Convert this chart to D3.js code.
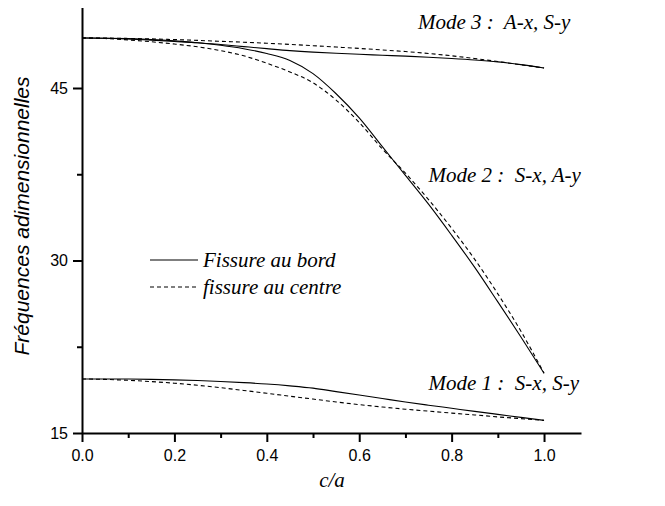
<!DOCTYPE html>
<html>
<head>
<meta charset="utf-8">
<style>
body { margin: 0; background: #fff; }
.axis path, .axis line { stroke: #000; stroke-width: 2; }
.axis text { font-family: "Liberation Sans", Arial, sans-serif; font-size: 16px; fill: #000; }
.curve { fill: none; stroke: #000; stroke-width: 1.1; }
.dash { stroke-dasharray: 4,3; }
.lbl { font-family: "Liberation Serif", "Times New Roman", serif; font-style: italic; font-size: 21px; fill: #000; white-space: pre; }
</style>
</head>
<body>
<svg id="chart" width="665" height="506"></svg>
<script src="https://d3js.org/d3.v7.min.js"></script>
<script>
// c/a values
let cOverA = [0, 0.05, 0.1, 0.15, 0.2, 0.25, 0.3, 0.35, 0.4, 0.45, 0.5,
              0.55, 0.6, 0.65, 0.7, 0.75, 0.8, 0.85, 0.9, 0.95, 1.0];
// fissure au bord (solid)
let mode1Bord = [19.70, 19.70, 19.69, 19.66, 19.62, 19.56, 19.48, 19.38, 19.26, 19.10, 18.90,
                 18.60, 18.30, 18.00, 17.70, 17.42, 17.15, 16.88, 16.62, 16.36, 16.10];
let mode2Bord = [49.35, 49.33, 49.29, 49.22, 49.10, 48.94, 48.72, 48.42, 48.00, 47.40, 46.25,
                 44.50, 42.40, 39.90, 37.40, 34.90, 32.20, 29.40, 26.40, 23.35, 20.20];
let mode3Bord = [49.35, 49.33, 49.26, 49.16, 49.05, 48.94, 48.78, 48.60, 48.42, 48.25, 48.12,
                 48.02, 47.93, 47.85, 47.77, 47.68, 47.57, 47.44, 47.27, 47.03, 46.74];
// fissure au centre (dashed)
let mode1Centre = [19.70, 19.66, 19.58, 19.47, 19.33, 19.15, 18.94, 18.70, 18.45, 18.20, 17.95,
                   17.70, 17.47, 17.26, 17.07, 16.90, 16.73, 16.57, 16.40, 16.25, 16.10];
let mode2Centre = [49.35, 49.30, 49.18, 49.02, 48.82, 48.58, 48.25, 47.80, 47.15, 46.40, 45.45,
                   43.95, 42.00, 39.70, 37.60, 35.30, 32.80, 30.10, 27.10, 23.85, 20.20];
let mode3Centre = [49.35, 49.34, 49.31, 49.27, 49.21, 49.14, 49.06, 48.98, 48.89, 48.79, 48.68,
                   48.56, 48.44, 48.31, 48.17, 48.00, 47.80, 47.56, 47.30, 47.02, 46.74];

let xTicks = [0, 0.2, 0.4, 0.6, 0.8, 1.0];
let xMinor = [0.1, 0.3, 0.5, 0.7, 0.9];
let yTicks = [15, 30, 45];
let yMinor = [22.5, 37.5];

let modeLabels = [
    {text: "Mode 3 :  A-x, S-y", x: 0.727, y: 50.1},
    {text: "Mode 2 :  S-x, A-y", x: 0.75, y: 36.8},
    {text: "Mode 1 :  S-x, S-y", x: 0.75, y: 18.75}
];

let svg = d3.select("#chart");
let x = d3.scaleLinear().domain([0, 1.08]).range([82, 581]);
let y = d3.scaleLinear().domain([15, 52]).range([433, 7.5]);

// minor ticks
svg.append("g")
    .attr("class", "axis")
    .attr("transform", "translate(0,433)")
    .call(d3.axisBottom(x).tickValues(xMinor).tickSize(5).tickFormat(""))
    .call(g => g.select(".domain").remove());
svg.append("g")
    .attr("class", "axis")
    .attr("transform", "translate(82,0)")
    .call(d3.axisLeft(y).tickValues(yMinor).tickSize(5).tickFormat(""))
    .call(g => g.select(".domain").remove());

// main axes
svg.append("g")
    .attr("class", "axis")
    .attr("transform", "translate(0,433)")
    .call(d3.axisBottom(x).tickValues(xTicks).tickSize(9).tickSizeOuter(0).tickPadding(8)
        .tickFormat(d3.format(".1f")));
svg.append("g")
    .attr("class", "axis")
    .attr("transform", "translate(82,0)")
    .call(d3.axisLeft(y).tickValues(yTicks).tickSize(9).tickSizeOuter(0).tickPadding(5));

let line = d3.line()
    .x((d, i) => x(cOverA[i]))
    .y(d => y(d))
    .curve(d3.curveMonotoneX);

[mode1Bord, mode2Bord, mode3Bord].forEach(s => {
    svg.append("path").attr("class", "curve").attr("d", line(s));
});
[mode1Centre, mode2Centre, mode3Centre].forEach(s => {
    svg.append("path").attr("class", "curve dash").attr("d", line(s));
});

// mode labels
svg.selectAll(".mode")
    .data(modeLabels)
    .enter().append("text")
    .attr("class", "lbl")
    .attr("x", d => x(d.x))
    .attr("y", d => y(d.y))
    .text(d => d.text);

// legend
let legend = [{text: "Fissure au bord", dash: false}, {text: "fissure au centre", dash: true}];
let lg = svg.append("g").attr("transform", "translate(150,260)");
legend.forEach((d, i) => {
    lg.append("line")
        .attr("class", d.dash ? "curve dash" : "curve")
        .attr("x1", 0).attr("x2", 48)
        .attr("y1", i * 27).attr("y2", i * 27);
    lg.append("text")
        .attr("class", "lbl")
        .attr("x", 53)
        .attr("y", i * 27 + 7)
        .text(d.text);
});

// axis titles
svg.append("text")
    .attr("class", "lbl")
    .attr("text-anchor", "middle")
    .attr("x", 332)
    .attr("y", 487)
    .text("c/a");
svg.append("text")
    .attr("transform", "translate(29,216) rotate(-90)")
    .attr("text-anchor", "middle")
    .style("font-family", "'Liberation Sans', Arial, sans-serif")
    .style("font-style", "italic")
    .style("font-size", "21px")
    .text("Fréquences adimensionnelles");
</script>
</body>
</html>
